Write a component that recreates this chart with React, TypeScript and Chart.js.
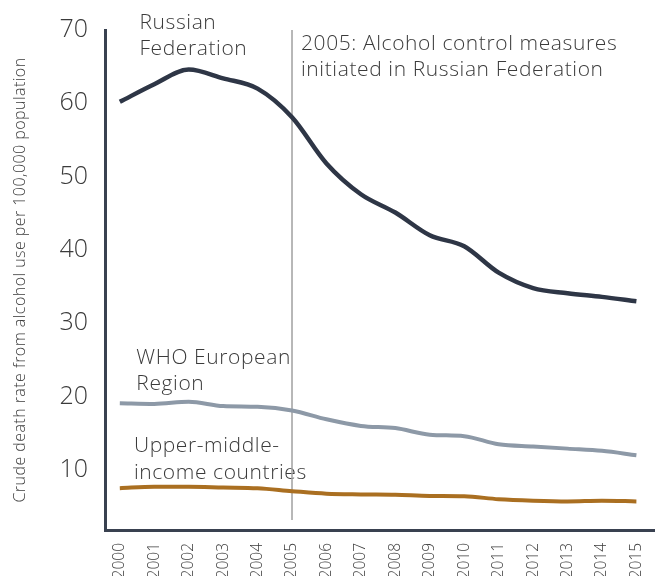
import React, { useEffect, useRef } from "react";
import { Chart, registerables } from "chart.js";

Chart.register(...registerables);

const years = [2000, 2001, 2002, 2003, 2004, 2005, 2006, 2007, 2008, 2009, 2010, 2011, 2012, 2013, 2014, 2015];
const russianFederation = [60.2, 62.6, 64.6, 63.4, 62.0, 58.1, 51.8, 47.6, 45.1, 42.0, 40.5, 36.9, 34.8, 34.1, 33.6, 33.0];
const whoEuropeanRegion = [19.1, 19.0, 19.3, 18.7, 18.6, 18.1, 16.9, 16.0, 15.7, 14.8, 14.6, 13.5, 13.2, 12.9, 12.6, 12.0];
const upperMiddleIncome = [7.5, 7.7, 7.7, 7.6, 7.5, 7.1, 6.75, 6.65, 6.6, 6.45, 6.4, 6.0, 5.8, 5.7, 5.8, 5.7];
const yTicks = [10, 20, 30, 40, 50, 60, 70];
const yTitle = "Crude death rate from alcohol use per 100,000 population";
const eventYear = 2005;
const eventLines = ["2005: Alcohol control measures", "initiated in Russian Federation"];
const seriesLabels = [
  { lines: ["Russian", "Federation"], x: 2000.57, y: 70.2 },
  { lines: ["WHO European", "Region"], x: 2000.48, y: 24.5 },
  { lines: ["Upper-middle-", "income countries"], x: 2000.41, y: 12.4 },
];

const FONT = "'Open Sans'";
const TEXT = "#3b3b3b";

const annotationPlugin = {
  id: "annot",
  beforeDatasetsDraw(chart: any) {
    const { ctx, chartArea, scales } = chart;
    const xs = scales.x;
    const ys = scales.y;
    ctx.save();
    ctx.fillStyle = TEXT;
    ctx.font = `300 16px ${FONT}`;
    (ctx as any).letterSpacing = "0.45px";
    ctx.translate(20, (chartArea.top + chartArea.bottom) / 2);
    ctx.rotate(-Math.PI / 2);
    ctx.textAlign = "center";
    ctx.textBaseline = "middle";
    ctx.fillText(yTitle, 0, 0);
    ctx.restore();

    ctx.save();
    ctx.fillStyle = TEXT;
    ctx.font = `300 21px ${FONT}`;
    (ctx as any).letterSpacing = "0.6px";
    ctx.textAlign = "left";
    ctx.textBaseline = "alphabetic";
    for (const s of seriesLabels) {
      const px = xs.getPixelForValue(s.x);
      const py = ys.getPixelForValue(s.y);
      s.lines.forEach((t, i) => ctx.fillText(t, px, py + i * 26.5));
    }
    const ex = xs.getPixelForValue(eventYear);
    eventLines.forEach((t, i) => ctx.fillText(t, ex + 9, chartArea.top + 20 + i * 25.5));
    ctx.restore();

    ctx.save();
    ctx.strokeStyle = "#a0a0a0";
    ctx.lineWidth = 1.5;
    ctx.beginPath();
    ctx.moveTo(ex, chartArea.top);
    ctx.lineTo(ex, chartArea.bottom - 10);
    ctx.stroke();
    ctx.restore();
  },
};

export default function App() {
  const ref = useRef<HTMLCanvasElement | null>(null);
  useEffect(() => {
    if (!ref.current) return;
    const chart = new Chart(ref.current, {
      type: "line",
      data: {
        datasets: [
          {
            label: "Russian Federation",
            data: years.map((y, i) => ({ x: y, y: russianFederation[i] })),
            borderColor: "#2e3646",
            borderWidth: 4.5,
            pointRadius: 0,
            cubicInterpolationMode: "monotone",
          },
          {
            label: "WHO European Region",
            data: years.map((y, i) => ({ x: y, y: whoEuropeanRegion[i] })),
            borderColor: "#8d99a7",
            borderWidth: 4,
            pointRadius: 0,
            cubicInterpolationMode: "monotone",
          },
          {
            label: "Upper-middle-income countries",
            data: years.map((y, i) => ({ x: y, y: upperMiddleIncome[i] })),
            borderColor: "#aa6f21",
            borderWidth: 4,
            pointRadius: 0,
            cubicInterpolationMode: "monotone",
          },
        ],
      },
      options: {
        responsive: false,
        animation: false,
        layout: { padding: { top: 30, right: 0, left: 0, bottom: 0 } },
        plugins: { legend: { display: false }, tooltip: { enabled: false } },
        scales: {
          x: {
            type: "linear",
            min: 1999.57,
            max: 2015.52,
            afterBuildTicks: (s: any) => {
              s.ticks = years.map((v) => ({ value: v }));
            },
            afterFit: (s: any) => {
              s.height = 46;
            },
            grid: { display: false },
            border: { display: true, color: "#394150", width: 3 },
            ticks: {
              autoSkip: false,
              minRotation: 90,
              maxRotation: 90,
              padding: 5,
              color: TEXT,
              font: { family: FONT, size: 15.5, weight: "300" },
              callback: (v: any) => String(v),
            },
          },
          y: {
            min: 1.8,
            max: 70,
            afterBuildTicks: (s: any) => {
              s.ticks = yTicks.map((v) => ({ value: v }));
            },
            afterFit: (s: any) => {
              s.width = 105;
            },
            grid: { display: false },
            border: { display: true, color: "#394150", width: 3 },
            ticks: {
              padding: 9,
              color: TEXT,
              font: { family: FONT, size: 25, weight: "300" },
              callback: (v: any) => String(v),
            },
          },
        },
      },
      plugins: [annotationPlugin],
    } as any);
    return () => chart.destroy();
  }, []);
  return (
    <div style={{ position: "absolute", left: 0, top: 0, width: 660, height: 576 }}>
      <canvas ref={ref} width={660} height={576} style={{ display: "block" }} />
    </div>
  );
}
